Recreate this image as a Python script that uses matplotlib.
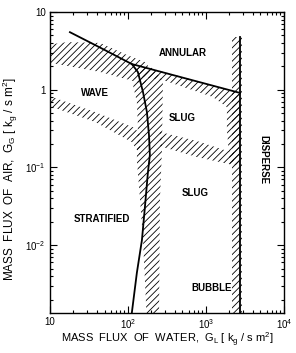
import numpy as np
import matplotlib
matplotlib.use('Agg')
import matplotlib.pyplot as plt
from matplotlib.ticker import FixedLocator, LogLocator, NullFormatter

plt.rcParams['font.family'] = ['Liberation Sans', 'DejaVu Sans']
plt.rcParams['hatch.linewidth'] = 0.6

# stratified boundary (solid curve), G_L / G_G in kg/s m2
curve_gl = [18, 45, 112, 134, 156, 175, 186, 191, 180, 165, 151, 130, 112]
curve_gg = [5.5, 3.44, 2.14, 1.69, 0.93, 0.516, 0.261, 0.145, 0.085, 0.031, 0.0116, 0.0044, 0.00134]

# annular boundary (solid line)
annular_gl = [112, 2730]
annular_gg = [2.14, 0.91]

# dispersed boundary (vertical solid line)
disperse_gl = [2730, 2730]
disperse_gg = [4.8, 0.001]

# hatched transition zones (closed outlines)
zone_upper_gl = [9, 16.5, 44, 97, 165, 191, 165, 106, 44, 9]
zone_upper_gg = [3.76, 4.1, 4.0, 2.8, 2.27, 1.9, 1.15, 1.33, 1.69, 2.27]

zone_annular_gl = [123, 2730, 2730, 2030, 1860, 1860, 1230, 281, 175, 123]
zone_annular_gg = [2.14, 0.91, 0.107, 0.107, 0.303, 0.598, 0.805, 1.33, 1.42, 1.55]

zone_left_gl = [116, 130, 134, 130, 143, 156, 175, 250, 257, 273, 281, 191]
zone_left_gg = [1.15, 0.695, 0.352, 0.125, 0.038, 0.0116, 0.001, 0.001, 0.038, 0.167, 1.33, 2.02]

zone_lower_gl = [9, 38, 123, 143, 143, 112, 38, 9]
zone_lower_gg = [0.855, 0.516, 0.321, 0.261, 0.145, 0.212, 0.384, 0.636]

zone_slug_gl = [257, 767, 1750, 2285, 2285, 767, 257]
zone_slug_gg = [0.286, 0.219, 0.167, 0.158, 0.107, 0.136, 0.188]

zone_right_gl = [2155, 2895, 2895, 2155]
zone_right_gg = [4.8, 4.8, 0.001, 0.001]

# regime labels
labels = ['ANNULAR', 'WAVE', 'SLUG', 'SLUG', 'STRATIFIED', 'BUBBLE']
label_gl = [507, 38, 492, 722, 46, 1195]
label_gg = [2.97, 0.91, 0.432, 0.047, 0.0217, 0.0028]

fig = plt.figure(figsize=(2.96, 3.53), dpi=100)
ax = fig.add_axes([0.169, 0.113, 0.790, 0.853])
ax.set_xscale('log')
ax.set_yscale('log')
ax.set_xlim(10, 1e4)
ax.set_ylim(10 ** -2.874, 10)

zones = [
	(zone_upper_gl, zone_upper_gg),
	(zone_annular_gl, zone_annular_gg),
	(zone_left_gl, zone_left_gg),
	(zone_lower_gl, zone_lower_gg),
	(zone_slug_gl, zone_slug_gg),
	(zone_right_gl, zone_right_gg),
]
for gl, gg in zones:
	ax.fill(gl, gg, facecolor='none', edgecolor='black', linewidth=0, hatch='/////')

ax.plot(curve_gl, curve_gg, color='black', lw=1.3)
ax.plot(annular_gl, annular_gg, color='black', lw=1.3)
ax.plot(disperse_gl, disperse_gg, color='black', lw=1.3)

for txt, x, y in zip(labels, label_gl, label_gg):
	ax.text(x, y, txt, ha='center', va='center', fontsize=7, fontweight='bold')
ax.text(5380, 0.125, 'DISPERSE', ha='center', va='center', fontsize=7,
		fontweight='bold', rotation=-90)

ax.xaxis.set_major_locator(FixedLocator([10, 1e2, 1e3, 1e4]))
ax.set_xticklabels(['10', r'$\mathdefault{10^{2}}$', r'$\mathdefault{10^{3}}$', r'$\mathdefault{10^{4}}$'])
ax.yaxis.set_major_locator(FixedLocator([1e-2, 1e-1, 1, 10]))
ax.set_yticklabels([r'$\mathdefault{10^{-2}}$', r'$\mathdefault{10^{-1}}$', '1', '10'])
ax.xaxis.set_minor_locator(LogLocator(base=10, subs=np.arange(2, 10), numticks=20))
ax.yaxis.set_minor_locator(LogLocator(base=10, subs=np.arange(2, 10), numticks=20))
ax.xaxis.set_minor_formatter(NullFormatter())
ax.yaxis.set_minor_formatter(NullFormatter())
ax.tick_params(which='both', direction='in', top=True, right=True, labelsize=7, width=0.8)
ax.tick_params(which='major', length=5, pad=3)
ax.tick_params(which='minor', length=2.5)
for s in ax.spines.values():
	s.set_linewidth(1.0)

ax.set_xlabel(r'MASS  FLUX  OF  WATER,  G$_{\mathdefault{L}}$ [ k$_{\mathdefault{g}}$ / s m$^{\mathdefault{2}}$]',
			  fontsize=8)
ax.set_ylabel(r'MASS  FLUX  OF  AIR,  G$_{\mathdefault{G}}$ [ k$_{\mathdefault{g}}$ / s m$^{\mathdefault{2}}$]',
			  fontsize=8.5)
ax.xaxis.set_label_coords(0.5, -0.06)
ax.yaxis.set_label_coords(-0.128, 0.445)

fig.savefig('out.png', dpi=100)
